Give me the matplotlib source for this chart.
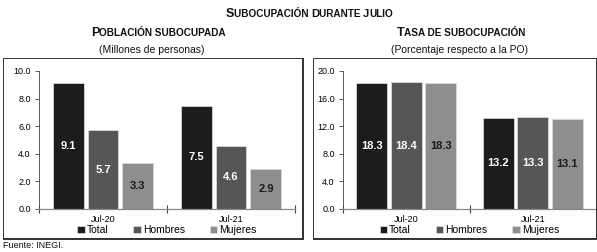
import numpy as np
import matplotlib
matplotlib.use("Agg")
import matplotlib.pyplot as plt
from matplotlib.patches import Rectangle
from matplotlib.lines import Line2D
from matplotlib.offsetbox import TextArea, HPacker, AnchoredOffsetbox

plt.rcParams["font.family"] = "Liberation Sans"

# --- data ---
periods = ["Jul-20", "Jul-21"]
series = ["Total", "Hombres", "Mujeres"]
poblacion = {"Total": [9.1, 7.5], "Hombres": [5.7, 4.6], "Mujeres": [3.3, 2.9]}
tasa = {"Total": [18.3, 13.2], "Hombres": [18.4, 13.3], "Mujeres": [18.3, 13.1]}

colors = {"Total": "#1c1c1c", "Hombres": "#565656", "Mujeres": "#8e8e8e"}
label_colors = {"Total": "white", "Hombres": "white", "Mujeres": "#1a1a1a"}

W, H = 597, 252
fig = plt.figure(figsize=(W / 100, H / 100), dpi=100)


def px(x0, y0, x1, y1):
    # image pixel box -> figure fraction [left, bottom, width, height]
    return [x0 / W, 1 - y1 / H, (x1 - x0) / W, (y1 - y0) / H]


def small_caps(parts, x, y):
    kids = [TextArea(t, textprops=dict(fontsize=s, fontweight="bold", color="#111111"))
            for t, s in parts]
    box = HPacker(children=kids, align="baseline", pad=0, sep=0)
    anc = AnchoredOffsetbox(loc="center", child=box, frameon=False, pad=0, borderpad=0,
                            bbox_to_anchor=(x, y), bbox_transform=fig.transFigure)
    fig.add_artist(anc)


def panel(rect, data, ymax, ystep):
    ax = fig.add_axes(rect)
    bw, step = 0.242, 0.273
    x = np.arange(len(periods))
    for i, s in enumerate(series):
        vals = data[s]
        bars = ax.bar(x + (i - 1) * step, vals, bw, color=colors[s],
                      edgecolor="#d8d8d8", linewidth=0.6, label=s)
        for b, v in zip(bars, vals):
            ax.text(b.get_x() + b.get_width() / 2, v / 2, f"{v:.1f}",
                    ha="center", va="center", fontsize=8, fontweight="bold",
                    color=label_colors[s])
    ax.set_xlim(-0.5, 1.5)
    ax.set_ylim(0, ymax)
    ax.set_yticks(np.arange(0, ymax + 0.01, ystep))
    ax.set_yticklabels([f"{v:.1f}" for v in np.arange(0, ymax + 0.01, ystep)])
    ax.set_xticks([-0.5, 0.5, 1.5])
    ax.set_xticklabels([])
    ax.set_xticks(x, minor=True)
    ax.set_xticklabels(periods, minor=True)
    ax.tick_params(axis="x", which="major", direction="inout", length=6, width=0.8,
                   color="#444444")
    ax.tick_params(axis="x", which="minor", length=0, pad=4, labelsize=6.5)
    ax.tick_params(axis="y", direction="out", length=3, width=0.6, labelsize=6.5,
                   color="#444444", pad=3)
    for sp in ["top", "right"]:
        ax.spines[sp].set_visible(False)
    ax.spines["left"].set_color("#444444")
    ax.spines["left"].set_linewidth(0.6)
    ax.spines["bottom"].set_color("#888888")
    ax.spines["bottom"].set_linewidth(0.9)
    ax.legend(loc="upper center", bbox_to_anchor=(0.5, -0.115), ncol=3, frameon=False,
              fontsize=7.5, handlelength=0.7, handleheight=0.7, handletextpad=0.2,
              columnspacing=2.4, borderpad=0, borderaxespad=0)
    return ax


# panel frames
for x0, x1 in [(3, 302), (313, 596)]:
    fig.add_artist(Rectangle((x0 / W, 1 - 238 / H), (x1 - x0) / W, 180 / H,
                             transform=fig.transFigure, fill=False,
                             edgecolor="#333333", linewidth=0.7))
    fig.add_artist(Line2D([(x0 + 1) / W, (x1 + 1.2) / W], [1 - 239.2 / H] * 2,
                          transform=fig.transFigure, color="#333333", linewidth=1.4))
    fig.add_artist(Line2D([(x1 + 1.2) / W] * 2, [1 - 239.2 / H, 1 - 59 / H],
                          transform=fig.transFigure, color="#333333", linewidth=1.4))

panel(px(39, 71, 295, 209), poblacion, 10.0, 2.0)
panel(px(343, 71, 596, 209), tasa, 20.0, 4.0)

# titles
small_caps([("S", 9), ("UBOCUPACIÓN ", 7.2), ("D", 8), ("URANTE ", 7.2), ("J", 8), ("ULIO", 7.2)],
           0.518, 1 - 14 / H)
small_caps([("P", 9), ("OBLACIÓN SUBOCUPADA", 7.2)], 0.265, 1 - 33 / H)
small_caps([("T", 9), ("ASA DE SUBOCUPACIÓN", 7.2)], 0.772, 1 - 33 / H)
fig.text(152 / W, 1 - 50 / H, "(Millones de personas)", ha="center", va="center",
         fontsize=7.5, color="#111111")
fig.text(460 / W, 1 - 50 / H, "(Porcentaje respecto a la PO)", ha="center", va="center",
         fontsize=7.5, color="#111111")
fig.text(3 / W, 1 - 246 / H, "Fuente: INEGI.", ha="left", va="center", fontsize=6.5,
         color="#111111")

fig.savefig("out.png", dpi=100)
